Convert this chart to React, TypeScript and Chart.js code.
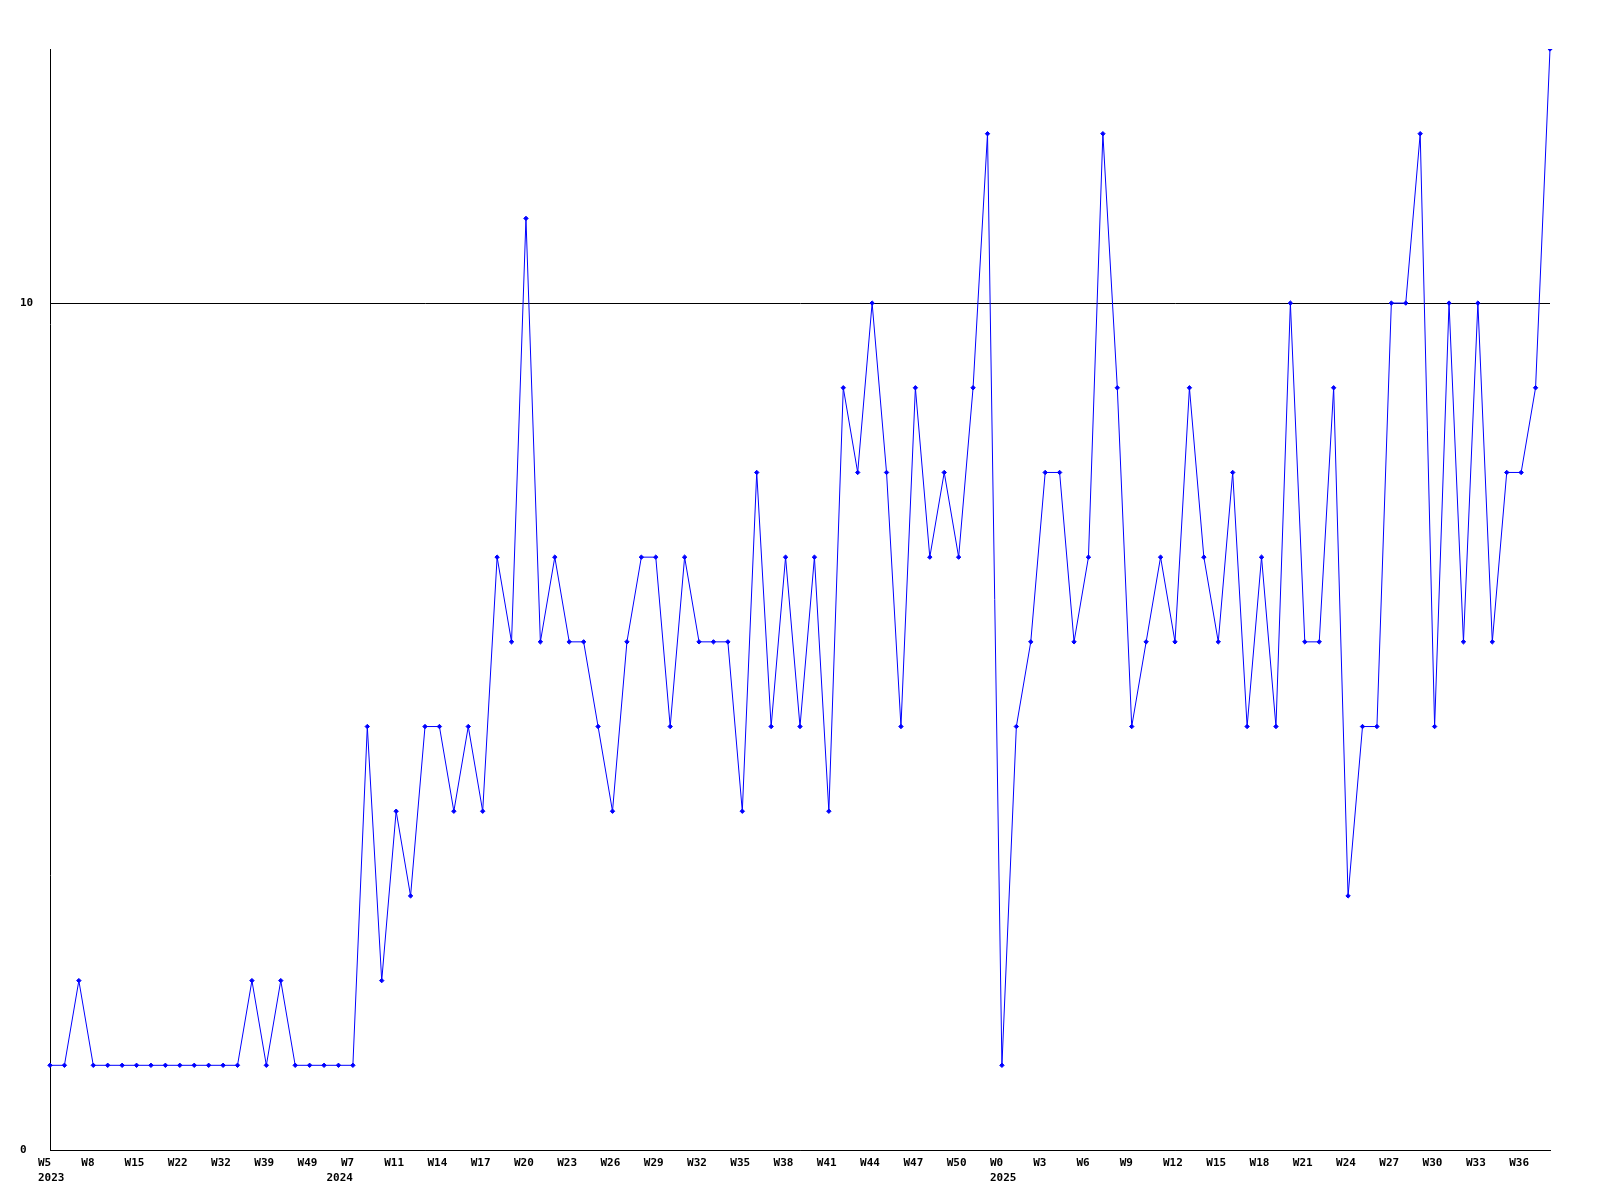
import React, { useEffect, useRef } from "react";
import { Chart, registerables } from "chart.js";

Chart.register(...registerables);

const weeks: string[] = [
  "W5", "W6", "W7", "W8", "W10", "W12", "W15", "W17", "W19", "W22", "W25", "W29", "W32", "W34", "W36", "W39", "W42", "W46", "W49", "W51",
  "W2", "W7", "W8", "W10",
  "W11", "W12", "W13", "W14", "W15", "W16", "W17", "W18", "W19", "W20", "W21", "W22", "W23", "W24", "W25", "W26", "W27", "W28", "W29", "W30",
  "W31", "W32", "W33", "W34", "W35", "W36", "W37", "W38", "W39", "W40", "W41", "W42", "W43", "W44", "W45", "W46", "W47", "W48", "W49", "W50",
  "W51", "W52",
  "W0", "W1", "W2", "W3", "W4", "W5", "W6", "W7", "W8", "W9", "W10", "W11", "W12", "W13", "W14", "W15", "W16", "W17", "W18", "W19", "W20",
  "W21", "W22", "W23", "W24", "W25", "W26", "W27", "W28", "W29", "W30", "W31", "W32", "W33", "W34", "W35", "W36", "W37", "W38",
];

const years: number[] = weeks.map((_, i) => (i < 20 ? 2023 : i < 66 ? 2024 : 2025));

const values: number[] = [
  1, 1, 2, 1, 1, 1, 1, 1, 1, 1, 1, 1, 1, 1, 2, 1, 2, 1, 1, 1, 1,
  1, 5, 2, 4, 3, 5, 5, 4, 5, 4, 7, 6, 11, 6, 7, 6, 6, 5, 4, 6, 7, 7, 5, 7, 6, 6, 6, 4, 8,
  5, 7, 5, 7, 4, 9, 8, 10, 8, 5, 9, 7, 8, 7, 9, 12,
  1, 5, 6, 8, 8, 6, 7, 12, 9, 5, 6, 7, 6, 9, 7, 6, 8, 5, 7, 5, 10, 6, 6, 9, 3, 5, 5,
  10, 10, 12, 5, 10, 6, 10, 6, 8, 8, 9, 13,
];

const yTicks: number[] = [0, 10];
const yMax = 13;
const labelEvery = 3;

export default function App() {
  const ref = useRef<HTMLCanvasElement>(null);

  useEffect(() => {
    if (!ref.current) return;
    Chart.defaults.font.family = "'DejaVu Sans Mono', monospace";
    Chart.defaults.font.size = 11;
    Chart.defaults.font.weight = "bold";
    Chart.defaults.color = "#000";

    const chart = new Chart(ref.current, {
      type: "line",
      data: {
        labels: weeks.map((w, i) => i),
        datasets: [
          {
            data: values,
            borderColor: "#0000ff",
            backgroundColor: "#0000ff",
            borderWidth: 1,
            pointStyle: "rectRot",
            pointRadius: 2.2,
            pointBorderWidth: 1,
            tension: 0,
            fill: false,
          },
        ],
      },
      options: {
        responsive: false,
        animation: false,
        devicePixelRatio: 1,
        layout: { padding: { left: 20, top: 49, right: 50, bottom: 0 } },
        plugins: { legend: { display: false }, tooltip: { enabled: false } },
        scales: {
          x: {
            type: "category",
            offset: false,
            grid: { display: false, drawTicks: false },
            border: { display: true, color: "#000", width: 1 },
            afterFit: (s: any) => {
              s.height = 50;
            },
            ticks: {
              autoSkip: false,
              maxRotation: 0,
              minRotation: 0,
              align: "start",
              labelOffset: -12,
              padding: 5,
              font: { lineHeight: 1.4 } as any,
              callback: (_v: any, i: number) => {
                const week = i % labelEvery === 0 ? weeks[i] : "";
                const newYear = i === 0 || years[i] !== years[i - 1];
                if (newYear) return [week, String(years[i])];
                return week;
              },
            },
          },
          y: {
            min: 0,
            max: yMax,
            afterBuildTicks: (s: any) => {
              s.ticks = yTicks.map((v) => ({ value: v }));
            },
            afterFit: (s: any) => {
              s.width = 30;
            },
            grid: { color: "#000", lineWidth: 1, drawTicks: false },
            border: { display: true, color: "#000", width: 1 },
            ticks: { crossAlign: "far", padding: 0 },
          },
        },
      },
    });
    return () => chart.destroy();
  }, []);

  return (
    <div style={{ position: "fixed", left: 0, top: 0, width: 1600, height: 1200, background: "#fff" }}>
      <canvas ref={ref} width={1600} height={1200} />
    </div>
  );
}
